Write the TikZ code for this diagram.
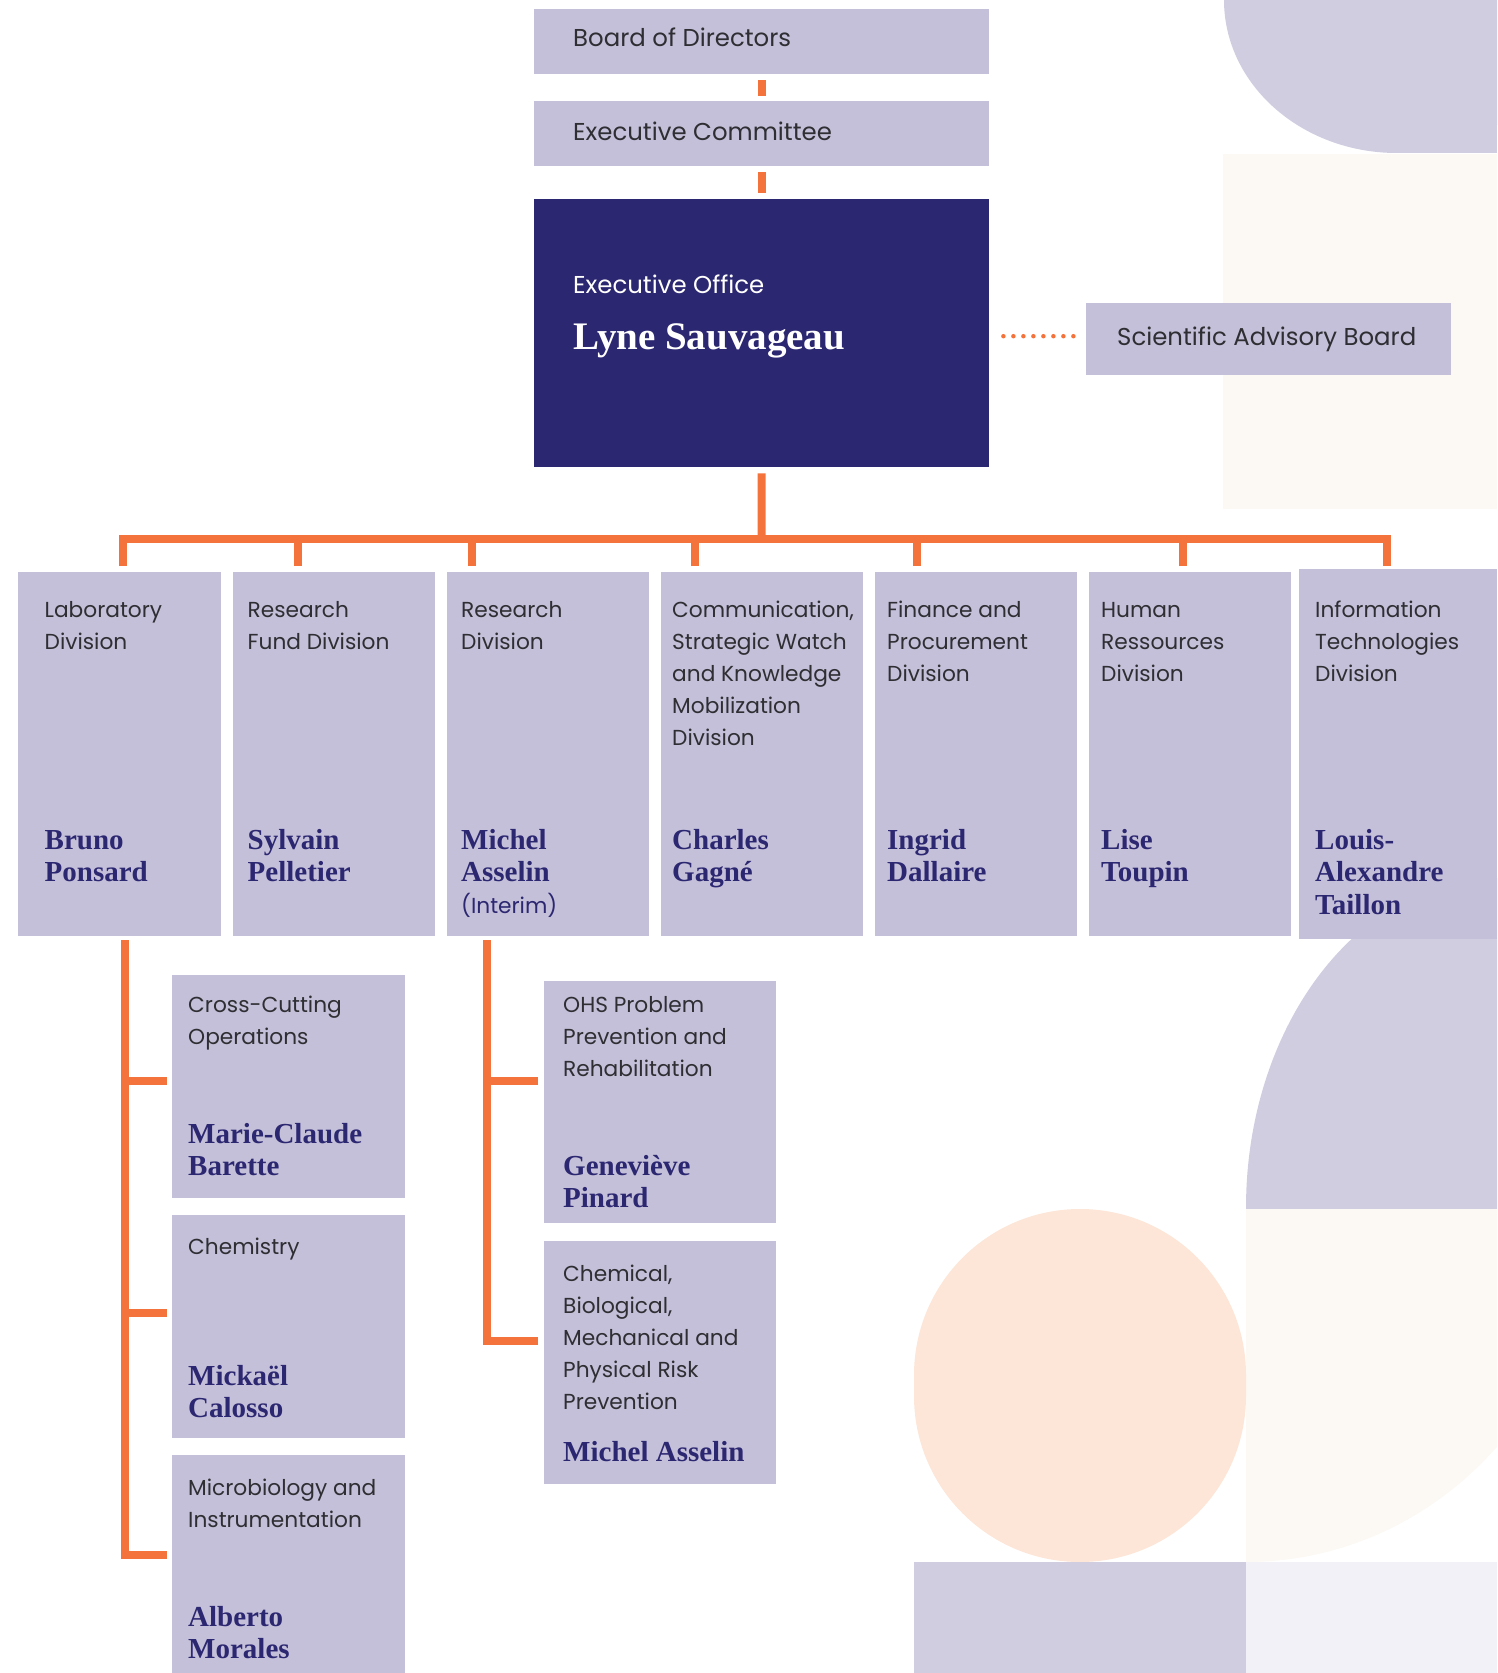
\documentclass[tikz,border=0pt]{standalone}
\usepackage{fontspec}
\setmainfont{Poppins}
\newfontfamily\namefamily{Liberation Serif}
\definecolor{boxlav}{HTML}{C4C0D9}
\definecolor{bglav}{HTML}{D0CDE1}
\definecolor{navy}{HTML}{2C2771}
\definecolor{orgline}{HTML}{F4733C}
\definecolor{cream}{HTML}{FCF9F5}
\definecolor{peach}{HTML}{FDE6D8}
\definecolor{paleg}{HTML}{F2F1F7}
\definecolor{txt}{HTML}{2E2E33}
\newcommand\tfont{\fontsize{21.7}{32}\selectfont}
\newcommand\bigtfont{\fontsize{24.4}{32}\selectfont}
\newcommand\nfont{\namefamily\bfseries\fontsize{29}{32.5}\selectfont}
\newcommand\stack[1]{\parbox[t]{400pt}{\raggedright #1}}
\begin{document}
\begin{tikzpicture}[x=1pt,y=-1pt,
  orgbox/.style={fill=boxlav, draw=none, inner sep=0, anchor=north west},
  titletext/.style={anchor=base west, inner sep=0, text=txt, font=\tfont},
  nametext/.style={anchor=base west, inner sep=0, text=navy, font=\nfont},
  conn/.style={draw=orgline, line width=8pt},
  dots/.style={draw=orgline, line width=4.5pt, dash pattern=on 0pt off 10pt, line cap=round}]
\useasboundingbox (0,0) rectangle (1497,1673);
% ---------- background decoration
\begin{scope}
  \clip (0,0) rectangle (1497,1673);
  \fill[cream] (1223,154) rectangle (1497,509);
  \fill[bglav] (1397,0) ellipse [x radius=173, y radius=153];
  \fill[bglav] (1397,0) rectangle (1497,153);
  \begin{scope}
    \clip (1246,1208) rectangle (1497,1562);
    \fill[cream] (1246,1208) ellipse [x radius=340, y radius=354];
  \end{scope}
  \begin{scope}
    \clip (1200,800) rectangle (1497,1208);
    \fill[bglav] (1497,1208) ellipse [x radius=251, y radius=330];
  \end{scope}
  \fill[peach, rounded corners=166pt] (914,1209) rectangle (1246,1562);
  \fill[bglav] (914,1562) rectangle (1246,1673);
  \fill[paleg] (1246,1562) rectangle (1497,1673);
\end{scope}
% ---------- top boxes
\node[orgbox, minimum width=455pt, minimum height=65pt] (board) at (534,9) {};
\node[orgbox, minimum width=455pt, minimum height=65pt] (excom) at (534,101) {};
\node[orgbox, fill=navy, minimum width=455pt, minimum height=268pt] (office) at (534,199) {};
\node[orgbox, minimum width=365pt, minimum height=72pt] (sab) at (1086,303) {};
\node[titletext, font=\bigtfont] (boardT) at (573,46) {Board of Directors};
\node[titletext, font=\bigtfont] (excomT) at (573,140) {Executive Committee};
\node[titletext, text=white, font=\bigtfont] (officeT) at (573,293) {Executive Office};
\node[nametext, text=white, font=\namefamily\bfseries\fontsize{39}{44}\selectfont] (officeN) at (573,349) {Lyne Sauvageau};
\node[titletext, font=\bigtfont] (sabT) at (1117,345) {Scientific Advisory Board};
% ---------- division boxes
\node[orgbox, minimum width=203pt, minimum height=364pt] (lab) at (18,572) {};
\node[orgbox, minimum width=202pt, minimum height=364pt] (fund) at (233,572) {};
\node[orgbox, minimum width=202pt, minimum height=364pt] (research) at (447,572) {};
\node[orgbox, minimum width=202pt, minimum height=364pt] (comm) at (661,572) {};
\node[orgbox, minimum width=202pt, minimum height=364pt] (fin) at (875,572) {};
\node[orgbox, minimum width=202pt, minimum height=364pt] (hr) at (1089,572) {};
\node[orgbox, minimum width=198pt, minimum height=370pt] (it) at (1299,569) {};
\node[titletext] (labT) at (44.5,617) {\stack{Laboratory\\Division}};
\node[titletext] (fundT) at (247.5,617) {\stack{Research\\Fund Division}};
\node[titletext] (researchT) at (461,617) {\stack{Research\\Division}};
\node[titletext] (commT) at (672,617) {\stack{Communication,\\Strategic Watch\\and Knowledge\\Mobilization\\Division}};
\node[titletext] (finT) at (887,617) {\stack{Finance and\\Procurement\\Division}};
\node[titletext] (hrT) at (1101,617) {\stack{Human\\Ressources\\Division}};
\node[titletext] (itT) at (1315,617) {\stack{Information\\Technologies\\Division}};
\node[nametext] (labN) at (44.5,849) {\stack{Bruno\\Ponsard}};
\node[nametext] (fundN) at (247.5,849) {\stack{Sylvain\\Pelletier}};
\node[nametext] (researchN) at (461,849) {\stack{Michel\\Asselin}};
\node[titletext, text=navy] (researchI) at (461,913) {(Interim)};
\node[nametext] (commN) at (672,849) {\stack{Charles\\Gagné}};
\node[nametext] (finN) at (887,849) {\stack{Ingrid\\Dallaire}};
\node[nametext] (hrN) at (1101,849) {\stack{Lise\\Toupin}};
\node[nametext] (itN) at (1315,849) {\stack{Louis-\\Alexandre\\Taillon}};
% ---------- sub boxes
\node[orgbox, minimum width=233pt, minimum height=223pt] (cross) at (172,975) {};
\node[orgbox, minimum width=233pt, minimum height=223pt] (chem) at (172,1215) {};
\node[orgbox, minimum width=233pt, minimum height=218pt] (micro) at (172,1455) {};
\node[orgbox, minimum width=232pt, minimum height=242pt] (ohs) at (544,981) {};
\node[orgbox, minimum width=232pt, minimum height=243pt] (chemical) at (544,1241) {};
\node[titletext] (crossT) at (188,1012) {\stack{Cross-Cutting\\Operations}};
\node[nametext] (crossN) at (188,1143) {\stack{Marie-Claude\\Barette}};
\node[titletext] (chemT) at (188,1254) {Chemistry};
\node[nametext] (chemN) at (188,1385) {\stack{Mickaël\\Calosso}};
\node[titletext] (microT) at (188,1495) {\stack{Microbiology and\\Instrumentation}};
\node[nametext] (microN) at (188,1626) {\stack{Alberto\\Morales}};
\node[titletext] (ohsT) at (563,1012) {\stack{OHS Problem\\Prevention and\\Rehabilitation}};
\node[nametext] (ohsN) at (563,1175) {\stack{Geneviève\\Pinard}};
\node[titletext] (chemicalT) at (563,1281) {\stack{Chemical,\\Biological,\\Mechanical and\\Physical Risk\\Prevention}};
\node[nametext] (chemicalN) at (563,1461) {Michel Asselin};
% ---------- connectors
\draw[conn] ([yshift=-6pt]board.south) -- ([yshift=5pt]excom.north);
\draw[conn] ([yshift=-6pt]excom.south) -- ([yshift=6pt]office.north);
\draw[dots] ([xshift=14pt,yshift=-3pt]office.east) -- ([xshift=-12pt,yshift=-3pt]sab.west |- office.east);
\coordinate (bus) at (761.5,539);
\draw[conn] ([yshift=-6pt]office.south) -- (bus);
\draw[conn] ([xshift=104.7pt,yshift=6pt]lab.north west) |- (bus) -| ([xshift=88.1pt,yshift=3pt]it.north west);
\draw[conn] ([xshift=64.9pt,yshift=6pt]fund.north west) coordinate (fd) -- (fd |- bus);
\draw[conn] ([xshift=24.6pt,yshift=6pt]research.north west) coordinate (rd) -- (rd |- bus);
\draw[conn] ([xshift=34pt,yshift=6pt]comm.north west) coordinate (cd) -- (cd |- bus);
\draw[conn] ([xshift=42.4pt,yshift=6pt]fin.north west) coordinate (nd) -- (nd |- bus);
\draw[conn] ([xshift=93.8pt,yshift=6pt]hr.north west) coordinate (hd) -- (hd |- bus);
% left tree
\coordinate (ltop) at ([xshift=106.5pt,yshift=-4pt]lab.south west);
\draw[conn] (ltop) |- ([xshift=-5pt,yshift=-100pt]micro.north west);
\draw[conn] (ltop |- cross.north) ++(0,106) -- ([xshift=-5pt,yshift=-106pt]cross.north west);
\draw[conn] (ltop |- chem.north) ++(0,98) -- ([xshift=-5pt,yshift=-98pt]chem.north west);
% right tree
\coordinate (rtop) at ([xshift=40pt,yshift=-4pt]research.south west);
\draw[conn] (rtop) |- ([xshift=-6pt,yshift=-100pt]chemical.north west);
\draw[conn] (rtop |- ohs.north) ++(0,100) -- ([xshift=-6pt,yshift=-100pt]ohs.north west);
\end{tikzpicture}
\end{document}
